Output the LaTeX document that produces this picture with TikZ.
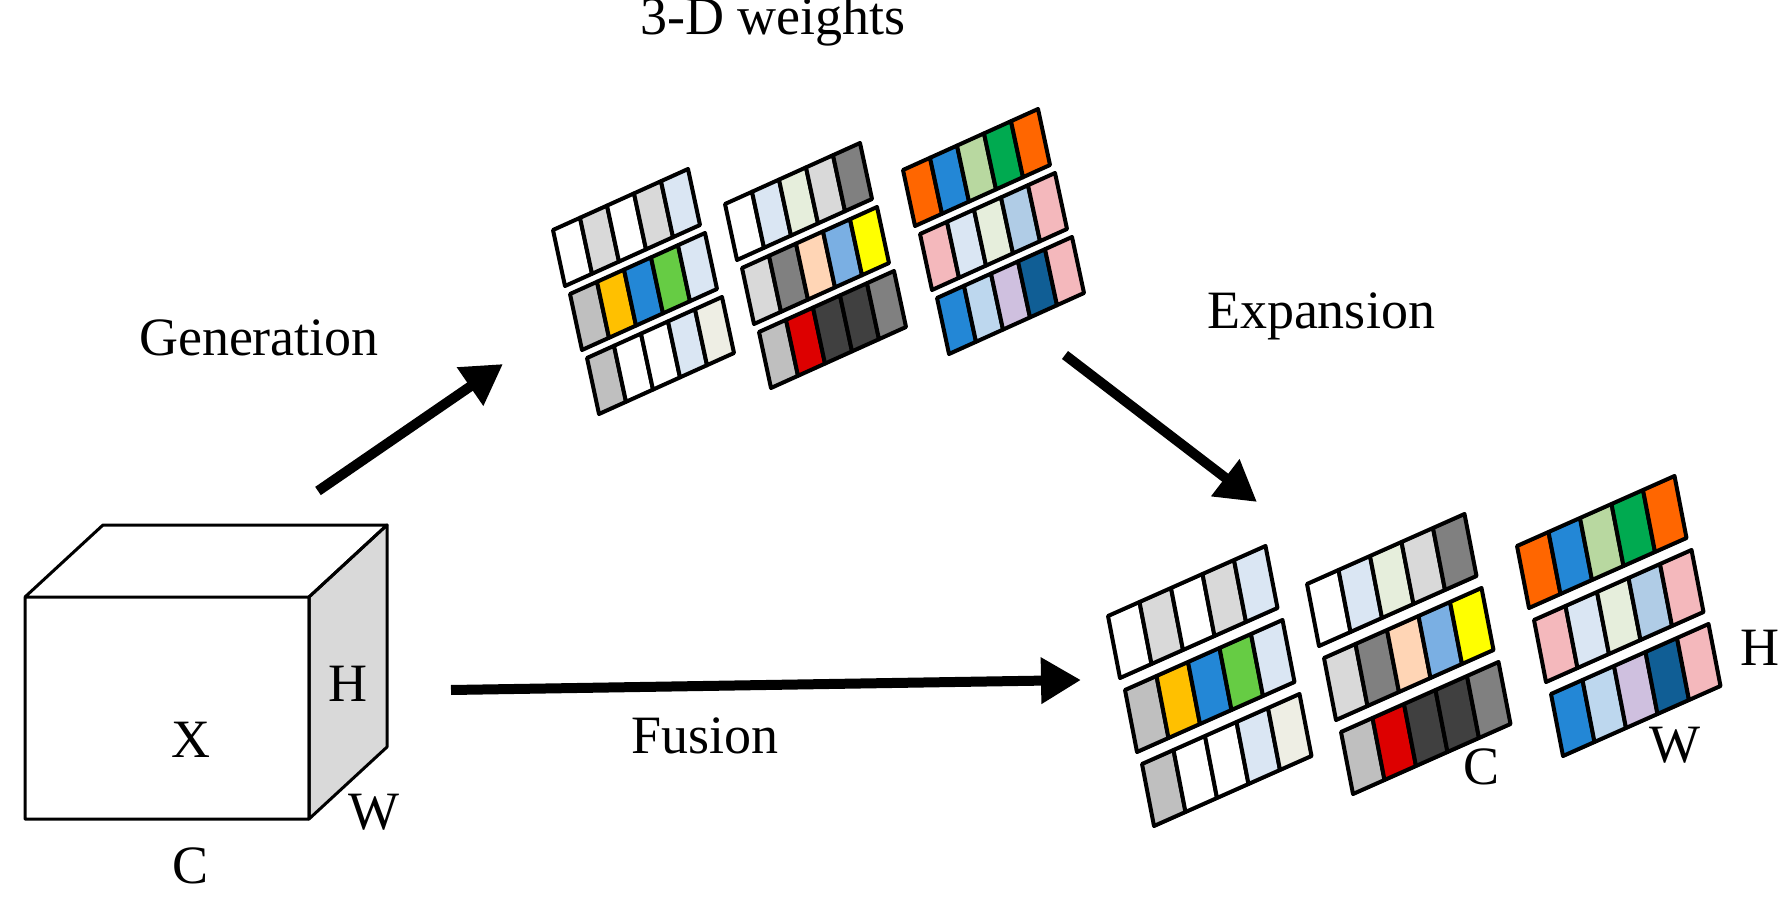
\documentclass[tikz,border=0pt]{standalone}
\usepackage{fontspec}
\setmainfont{Liberation Serif}
\usetikzlibrary{arrows.meta}
\definecolor{lg}{HTML}{D9D9D9}\definecolor{mg}{HTML}{BFBFBF}\definecolor{dg}{HTML}{808080}
\definecolor{vd}{HTML}{404040}\definecolor{lb}{HTML}{DAE6F3}\definecolor{ora}{HTML}{FFC000}
\definecolor{bl}{HTML}{2387D6}\definecolor{gr}{HTML}{66CC44}\definecolor{be}{HTML}{EEEEE4}
\definecolor{lgr}{HTML}{E6EEDC}\definecolor{pe}{HTML}{FFD5B5}\definecolor{mb}{HTML}{7AAFE3}
\definecolor{ye}{HTML}{FFFF00}\definecolor{re}{HTML}{DD0000}\definecolor{or}{HTML}{FF6600}
\definecolor{sa}{HTML}{B8D8A0}\definecolor{gg}{HTML}{00AA50}\definecolor{pk}{HTML}{F4B8BC}
\definecolor{b2}{HTML}{B0CCE6}\definecolor{b3}{HTML}{BDD7EE}\definecolor{lv}{HTML}{CFC0DF}
\definecolor{db}{HTML}{105E95}
\tikzset{cell/.style={draw=black,line width=2pt,line join=round},
 big/.style={line width=5pt,-{Triangle[length=20pt,width=22pt]}},
 lab/.style={font=\fontsize{27}{32}\selectfont,inner sep=0pt}}
\newcommand\wstrip[3]{%
 \foreach \c [count=\i from 0] in {#3}{%
  \filldraw[cell,fill=\c] ({#1+\i*\ux},{#2+\i*\uy}) -- ++(\ux,\uy) -- ++(\vx,\vy) -- ++({-\ux},{-\uy}) -- cycle;}}
\newcommand\wgroup[8]{% x y rowdx rowdy c2dx c2dy c3dx c3dy
 \wstrip{#1}{#2}{white,lg,white,lg,lb}
 \wstrip{#1+#3}{#2+#4}{mg,ora,bl,gr,lb}
 \wstrip{#1+2*#3}{#2+2*#4}{mg,white,white,lb,be}
 \wstrip{#1+#5}{#2+#6}{white,lb,lgr,lg,dg}
 \wstrip{#1+#5+#3}{#2+#6+#4}{lg,dg,pe,mb,ye}
 \wstrip{#1+#5+2*#3}{#2+#6+2*#4}{mg,re,vd,vd,dg}
 \wstrip{#1+#7}{#2+#8}{or,bl,sa,gg,or}
 \wstrip{#1+#7+#3}{#2+#8+#4}{pk,lb,lgr,b2,pk}
 \wstrip{#1+#7+2*#3}{#2+#8+2*#4}{bl,b3,lv,db,pk}}
\begin{document}
\begin{tikzpicture}[x=0.5pt,y=-0.5pt]
\useasboundingbox (0,0) rectangle (1783,898);
% top weights
\def\ux{27}\def\uy{-12.2}\def\vx{-12}\def\vy{-56}
\wgroup{565}{286}{17}{64}{172}{-26}{350}{-60}
% bottom weights
\def\ux{31.5}\def\uy{-14}\def\vx{-12}\def\vy{-62}
\wgroup{1120}{678}{17}{74}{199}{-32}{409}{-70}
% cube
\coordinate (f1) at (25,597); \coordinate (f2) at (309,597);
\coordinate (f3) at (309,819); \coordinate (f4) at (25,819);
\coordinate (b1) at (103,525); \coordinate (b2) at (387,525); \coordinate (b3) at (387,747);
\filldraw[fill=lg,line width=1.5pt,line join=round] (f2)--(b2)--(b3)--(f3)--cycle;
\draw[line width=1.5pt,line join=round] (f1)--(b1)--(b2)--(f2)--cycle (f1) rectangle (f3);
\node[lab] (X) at (191,740) {X};
\node[lab] (Hc) at (348,684) {H};
\node[lab] (Wc) at (374,812) {W};
\node[lab] (Cc) at (191,866) {C};
% labels
\node[lab] (t3d) at (773,22) {3-D weights};
\node[lab] (gen) at (259,338) {Generation};
\node[lab] (exp) at (1321,316) {Expansion};
\node[lab] (fus) at (705,736) {Fusion};
\node[lab] (Hb) at (1760,648) {H};
\node[lab] (Cb) at (1481,767) {C};
\node[lab] (Wb) at (1675,745) {W};
% arrows
\coordinate (g1) at (318,491); \coordinate (g2) at (503,364);
\coordinate (e1) at (1065,355); \coordinate (e2) at (1257,502);
\coordinate (s1) at (451,690); \coordinate (s2) at (1081,680);
\draw[big] (g1)--(g2);
\draw[big] (e1)--(e2);
\draw[big] (s1)--(s2);
\end{tikzpicture}
\end{document}
